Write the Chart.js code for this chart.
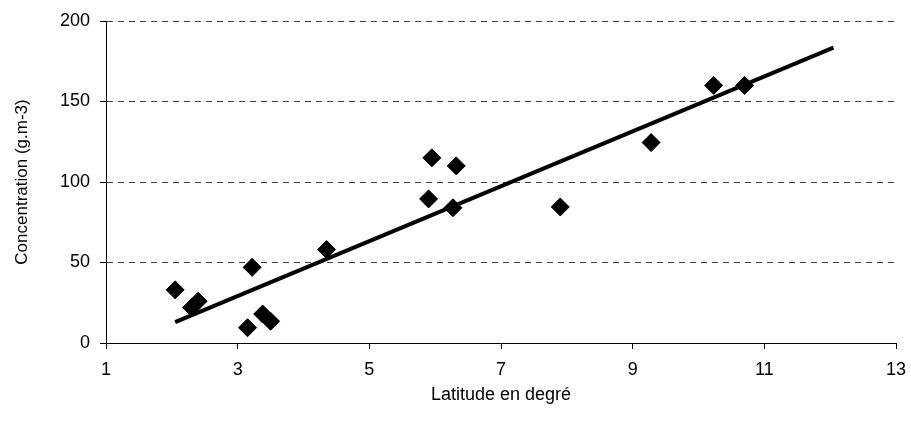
<!DOCTYPE html>
<html>
<head>
<meta charset="utf-8">
<script src="https://cdn.jsdelivr.net/npm/chart.js@4.4.0/dist/chart.umd.min.js"></script>
<style>
  html, body { margin: 0; padding: 0; background: #fff; }
  #wrap { width: 911px; height: 422px; }
</style>
</head>
<body>
<div id="wrap"><canvas id="chart" width="911" height="422"></canvas></div>
<script>
// latitude (degrees) and concentration
const latitude = [2.05, 2.3, 2.4, 3.15, 3.22, 3.38, 3.5, 4.35, 5.9, 5.95, 6.27, 6.32, 7.9, 9.28, 10.23, 10.7];
const concentration = [33, 22, 26, 9.5, 47, 18, 13.5, 58, 89.5, 115, 84, 110, 84.5, 124.5, 160, 160];

// linear trend line end points
const trendX = [2.05, 12.05];
const trendY = [13, 183.5];

const xTicks = [1, 3, 5, 7, 9, 11, 13];
const yTicks = [0, 50, 100, 150, 200];

const fontFamily = '"Liberation Sans", Arial, sans-serif';

const points = latitude.map((x, i) => ({ x: x, y: concentration[i] }));
const trend = trendX.map((x, i) => ({ x: x, y: trendY[i] }));

const ctx = document.getElementById('chart');
new Chart(ctx, {
  type: 'scatter',
  data: {
    datasets: [
      {
        type: 'line',
        data: trend,
        borderColor: '#000',
        borderWidth: 4,
        pointRadius: 0,
        fill: false
      },
      {
        data: points,
        pointStyle: 'rectRot',
        pointRadius: 9,
        pointHoverRadius: 9,
        backgroundColor: '#000',
        borderColor: '#000',
        borderWidth: 1
      }
    ]
  },
  options: {
    responsive: false,
    animation: false,
    events: [],
    layout: { padding: { top: 21, right: 15, left: 0, bottom: 0 } },
    plugins: {
      legend: { display: false },
      tooltip: { enabled: false }
    },
    scales: {
      x: {
        type: 'linear',
        min: 1,
        max: 13,
        afterBuildTicks: (scale) => { scale.ticks = xTicks.map(v => ({ value: v })); },
        afterFit: (scale) => {
          scale.height = 79;
          // keep the plot edge fixed, label overflow is handled by layout padding
          scale.paddingLeft = 0;
          scale.paddingRight = 0;
        },
        border: { display: true, color: '#000', width: 1 },
        grid: { drawOnChartArea: false, drawTicks: true, tickLength: 6, color: '#000' },
        ticks: { color: '#000', padding: 10, font: { family: fontFamily, size: 18 } },
        title: {
          display: true,
          text: 'Latitude en degré',
          color: '#000',
          font: { family: fontFamily, size: 18 },
          padding: { top: 0, bottom: 16 }
        }
      },
      y: {
        min: 0,
        max: 200,
        afterBuildTicks: (scale) => { scale.ticks = yTicks.map(v => ({ value: v })); },
        afterFit: (scale) => {
          scale.width = 106;
          scale.paddingTop = 0;
          scale.paddingBottom = 0;
        },
        border: { display: true, color: '#000', width: 1, dash: [6, 5] },
        grid: {
          color: '#404040',
          lineWidth: 1,
          tickLength: 6,
          tickColor: '#000',
          tickBorderDash: [],
          drawTicks: true
        },
        ticks: { color: '#000', padding: 10, font: { family: fontFamily, size: 18 } },
        title: {
          display: true,
          text: 'Concentration (g.m-3)',
          color: '#000',
          font: { family: fontFamily, size: 17 },
          padding: { top: 12, bottom: 0 }
        }
      }
    }
  }
});
</script>
</body>
</html>
